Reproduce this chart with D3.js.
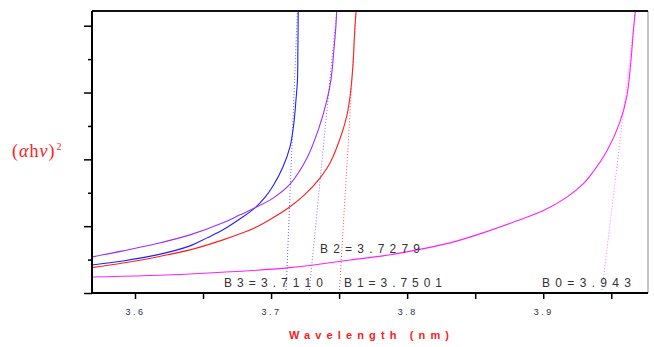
<!DOCTYPE html>
<html>

<head>
    <meta charset="UTF-8">
    <title>Band gap plot</title>
    <style>
        body { margin: 0; background: white; }
    </style>
</head>

<body>
    <svg></svg>
    <script src="https://cdnjs.cloudflare.com/ajax/libs/d3/7.8.5/d3.min.js"></script>
    <script>
        // curves: [wavelength, (alpha h nu)^2 in tick units]
        const curveB3 = [[3.5684, 0.84], [3.5912, 0.96], [3.6162, 1.14], [3.6404, 1.41], [3.6529, 1.65],
            [3.6647, 1.89], [3.6772, 2.22], [3.6882, 2.55], [3.6955, 2.86], [3.7014, 3.20], [3.7087, 3.77],
            [3.7139, 4.37], [3.7168, 5.10], [3.7183, 5.78], [3.7194, 6.38], [3.7197, 7.28], [3.7200, 8.62]];
        const curveB2 = [[3.5684, 1.08], [3.5912, 1.26], [3.6162, 1.48], [3.6404, 1.74], [3.6647, 2.10],
            [3.6772, 2.34], [3.6882, 2.55], [3.7014, 2.84], [3.7139, 3.26], [3.7264, 4.04], [3.7352, 4.94],
            [3.7411, 5.78], [3.7440, 6.38], [3.7462, 7.28], [3.7477, 8.02], [3.7484, 8.62]];
        const curveB1 = [[3.5684, 0.76], [3.5912, 0.90], [3.6162, 1.08], [3.6404, 1.29], [3.6647, 1.59],
            [3.6772, 1.77], [3.6896, 1.98], [3.7014, 2.25], [3.7139, 2.58], [3.7249, 2.95], [3.7359, 3.44],
            [3.7433, 3.89], [3.7521, 4.79], [3.7558, 5.33], [3.7580, 5.87], [3.7602, 6.83], [3.7613, 7.73],
            [3.7628, 8.62]];
        const curveB0 = [[3.5684, 0.48], [3.6404, 0.57], [3.7139, 0.76], [3.7580, 0.99], [3.7822, 1.11],
            [3.8072, 1.29], [3.8315, 1.50], [3.8557, 1.80], [3.8807, 2.16], [3.8998, 2.46], [3.9174, 2.87],
            [3.9292, 3.26], [3.9343, 3.50], [3.9468, 4.25], [3.9564, 5.12], [3.9615, 5.90], [3.9644, 6.92],
            [3.9663, 7.87], [3.9681, 8.62]];

        // band gap values and where the tangent meets the top of the frame
        const gapNames = ["B3", "B2", "B1", "B0"];
        const gapValues = [3.7110, 3.7279, 3.7501, 3.943];
        const gapLabels = ["B 3 = 3 . 7 1 1 0", "B 2 = 3 . 7 2 7 9", "B 1 = 3 . 7 5 0 1", "B 0 = 3 . 9 4 3"];
        const tangentTops = [3.7193, 3.7482, 3.7625, 3.9679];

        const xTicks = [3.6, 3.65, 3.7, 3.75, 3.8, 3.85, 3.9, 3.95];
        const yTicks = [0, 1, 2, 3, 4, 5, 6, 7, 8];

        const width = 654, height = 347;
        const mLeft = 92, mRight = 648, mTop = 11, mBottom = 293;

        const svg = d3.select("svg")
            .attr("width", width)
            .attr("height", height);

        const x = d3.scaleLinear().domain([3.5684, 3.9770]).range([mLeft, mRight]);
        const y = d3.scaleLinear().domain([0, 8.44]).range([mBottom, mTop]);

        svg.append("clipPath").attr("id", "plot")
            .append("rect")
            .attr("x", mLeft).attr("y", mTop)
            .attr("width", mRight - mLeft).attr("height", mBottom - mTop);

        const colors = ["#2020ff", "#9a30ff", "#ff2020", "#ff20ff"];
        const dotColors = ["#6060ff", "#b060e0", "#ff5050", "#ff70ff"];

        const line = d3.line()
            .x(d => x(d[0]))
            .y(d => y(d[1]))
            .curve(d3.curveCatmullRom.alpha(0.5));

        const plot = svg.append("g").attr("clip-path", "url(#plot)");

        // tangent (dotted) lines
        plot.selectAll(".tangent")
            .data(gapValues)
            .enter().append("line")
            .attr("class", "tangent")
            .attr("x1", d => x(d))
            .attr("y1", y(0))
            .attr("x2", (d, i) => x(tangentTops[i]))
            .attr("y2", y(8.44))
            .attr("stroke", (d, i) => dotColors[i])
            .attr("stroke-width", 1)
            .attr("stroke-dasharray", "1,2");

        plot.selectAll(".curve")
            .data([curveB3, curveB2, curveB1, curveB0])
            .enter().append("path")
            .attr("class", "curve")
            .attr("d", line)
            .attr("fill", "none")
            .attr("stroke", (d, i) => colors[i])
            .attr("stroke-width", 1.1);

        // frame
        svg.append("line")
            .attr("x1", mRight).attr("x2", mRight)
            .attr("y1", mTop).attr("y2", mBottom)
            .attr("stroke", "#888").attr("stroke-width", 1);
        svg.append("line")
            .attr("x1", mLeft).attr("x2", mRight)
            .attr("y1", mTop).attr("y2", mTop)
            .attr("stroke", "#111").attr("stroke-width", 2);

        // x axis
        const xAxis = svg.append("g")
            .attr("transform", `translate(0,${mBottom})`)
            .call(d3.axisBottom(x)
                .tickValues(xTicks)
                .tickSize(6)
                .tickPadding(10)
                .tickFormat(d => Math.round(d * 100) % 10 == 0 ? d3.format(".1f")(d) : ""));
        xAxis.select(".domain")
            .attr("d", `M${mLeft},0H${mRight}`)
            .attr("stroke", "#000").attr("stroke-width", 2);
        xAxis.selectAll(".tick line").attr("stroke", "#000").attr("stroke-width", 1.5);
        xAxis.selectAll(".tick text")
            .attr("font-family", "Arial, 'Liberation Sans', sans-serif")
            .attr("font-size", 9)
            .attr("letter-spacing", 2.5)
            .attr("fill", "#334");

        // y axis, no labels
        const yAxis = svg.append("g")
            .attr("transform", `translate(${mLeft},0)`)
            .call(d3.axisLeft(y)
                .tickValues(yTicks)
                .tickFormat(""));
        yAxis.select(".domain")
            .attr("d", `M0,${mTop}V${mBottom}`)
            .attr("stroke", "#000").attr("stroke-width", 2);
        yAxis.selectAll(".tick line")
            .attr("x2", d => d % 2 == 0 ? -8 : -4)
            .attr("stroke", "#000").attr("stroke-width", 1.5);

        // band gap labels
        const labelPos = [[224, 287], [320, 253], [344, 287], [542, 287]];
        const labelWidth = [99, 100, 98, 89];
        svg.selectAll(".gap")
            .data(gapLabels)
            .enter().append("text")
            .attr("class", "gap")
            .attr("x", (d, i) => labelPos[i][0])
            .attr("y", (d, i) => labelPos[i][1])
            .attr("textLength", (d, i) => labelWidth[i])
            .attr("lengthAdjust", "spacing")
            .attr("font-family", "Arial, 'Liberation Sans', sans-serif")
            .attr("font-size", 12)
            .attr("fill", "#333")
            .text(d => d);

        // axis titles
        svg.append("text")
            .attr("x", 369)
            .attr("y", 339)
            .attr("text-anchor", "middle")
            .attr("textLength", 160)
            .attr("lengthAdjust", "spacing")
            .attr("font-family", "Arial, 'Liberation Sans', sans-serif")
            .attr("font-size", 11)
            .attr("font-weight", "bold")
            .attr("fill", "#ff1a1a")
            .text("Wavelength (nm)");

        const yTitle = svg.append("text")
            .attr("x", 12)
            .attr("y", 157)
            .attr("font-family", "'Liberation Serif', 'Times New Roman', serif")
            .attr("font-size", 18)
            .attr("letter-spacing", 1)
            .attr("fill", "#ff1a1a");
        yTitle.append("tspan").text("(");
        yTitle.append("tspan").attr("font-style", "italic").text("α");
        yTitle.append("tspan").text("h");
        yTitle.append("tspan").attr("font-style", "italic").text("ν");
        yTitle.append("tspan").text(")");
        yTitle.append("tspan").attr("font-size", 10).attr("dy", -7).attr("dx", 1).text("2");
    </script>
</body>

</html>
